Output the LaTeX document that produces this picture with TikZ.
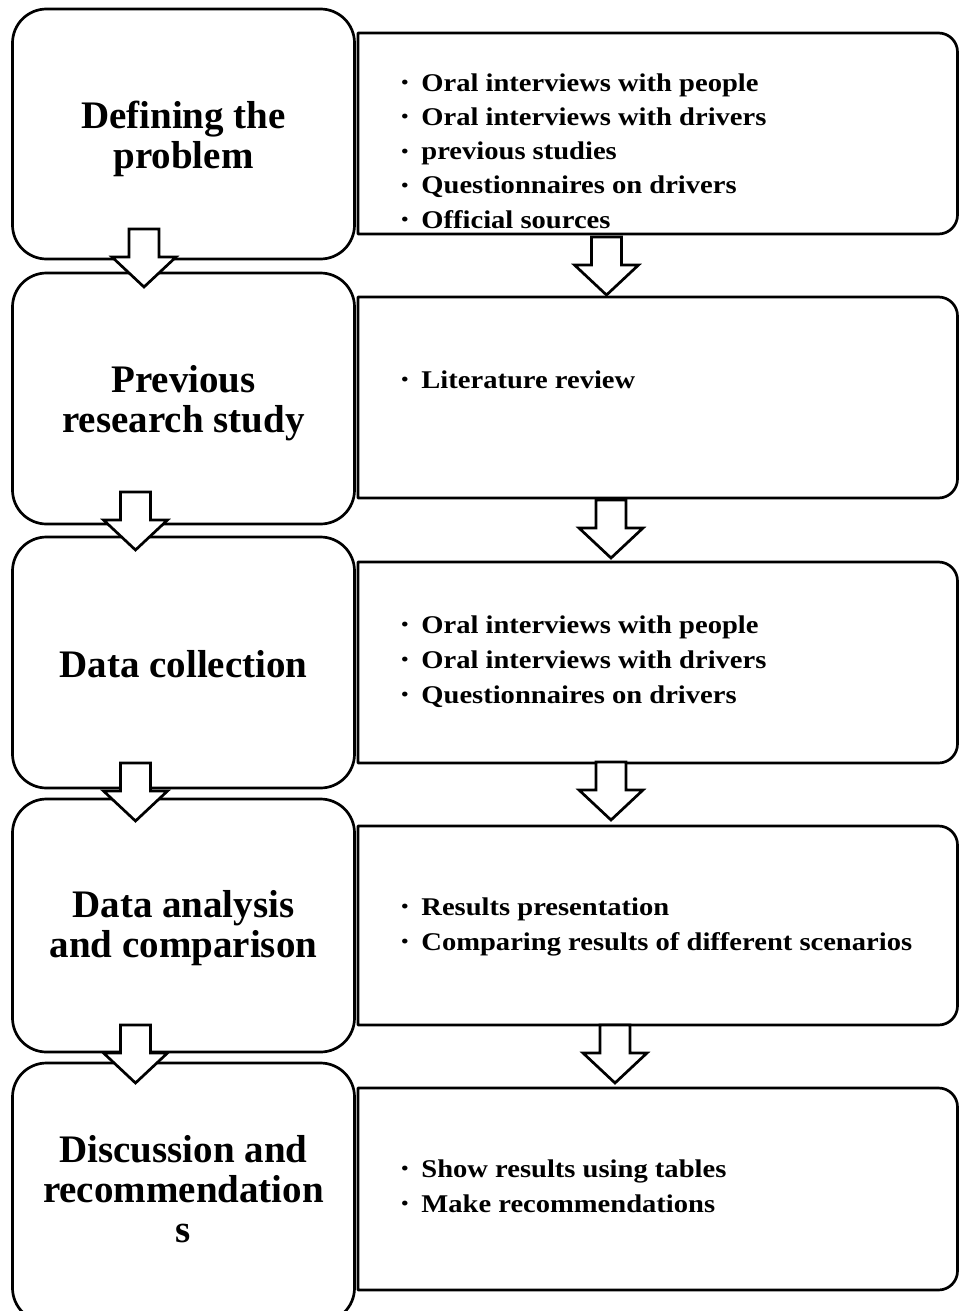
\documentclass[tikz,border=0pt]{standalone}
\usepackage{fontspec}
\setmainfont{Liberation Serif}
\newfontfamily\bulfont[FakeStretch=1.12]{Liberation Serif}
\usetikzlibrary{calc}
\newcommand\rightframe[1]{%
  \draw[frame] (#1.north west) -- ($(#1.north east)+(-19,0)$)
    .. controls ($(#1.north east)+(-8.5,0)$) and ($(#1.north east)+(0,8.5)$) .. ($(#1.north east)+(0,19)$)
    -- ($(#1.south east)+(0,-19)$)
    .. controls ($(#1.south east)+(0,-8.5)$) and ($(#1.south east)+(-8.5,0)$) .. ($(#1.south east)+(-19,0)$)
    -- (#1.south west) -- cycle;}
\newcommand\smalldot{\makebox[11pt][l]{\hspace{1pt}\raisebox{1.2pt}{\fontsize{9}{9}\selectfont\textbullet}}}
\begin{document}
\begin{tikzpicture}[x=0.5pt,y=-0.5pt,
  frame/.style={line width=1.35pt, line join=round},
  lbox/.style={draw, line width=1.35pt, rounded corners=17pt, fill=white, inner sep=0pt, outer sep=0pt, minimum width=171pt},
  rbox/.style={inner sep=0pt, outer sep=0pt, minimum width=299.75pt},
  title/.style={font=\fontsize{19.5}{20}\selectfont\bfseries, align=center, inner sep=0pt},
  bul/.style={font=\bulfont\fontsize{12.75}{15}\selectfont\bfseries, anchor=base west, inner sep=0pt},
  barrow/.pic={\draw[line width=1.35pt, fill=white, line join=miter]
     (-15,-58) -- (15,-58) -- (15,-30) -- (32,-30) -- (0,0) -- (-32,-30) -- (-15,-30) -- cycle;}
]
\useasboundingbox (0,0) rectangle (959,1311);
\clip (0,0) rectangle (959,1311);

% right boxes
\node[rbox, minimum height=100.5pt] (R1) at (657.75,133.5) {};
\node[rbox, minimum height=100.5pt] (R2) at (657.75,397.5) {};
\node[rbox, minimum height=100.5pt] (R3) at (657.75,662.5) {};
\node[rbox, minimum height=99.5pt]  (R4) at (657.75,925.5) {};
\node[rbox, minimum height=101pt]   (R5) at (657.75,1189) {};
\rightframe{R1}
\rightframe{R2}
\rightframe{R3}
\rightframe{R4}
\rightframe{R5}

% left boxes
\node[lbox, minimum height=125pt]   (L1) at (183.5,134) {};
\node[lbox, minimum height=125.5pt] (L2) at (183.5,398.5) {};
\node[lbox, minimum height=125.5pt] (L3) at (183.5,662.5) {};
\node[lbox, minimum height=126.5pt] (L4) at (183.5,925.5) {};
\node[lbox, minimum height=129.5pt] (L5) at (183.5,1192.5) {};

% titles
\node[title] (T1) at (183.5,138.5) {Defining the\\problem};
\node[title] (T2) at (183.5,403) {Previous\\research study};
\node[title] (T3) at (183.5,663.7) {Data collection};
\node[title] (T4) at (183.5,928.5) {Data analysis\\and comparison};
\node[title] (T5) at (183.5,1189) {Discussion and\\recommendation\\s};

% bullets
\foreach \t [count=\i] in {Oral interviews with people, Oral interviews with drivers, previous studies, Questionnaires on drivers, Official sources}
  \node[bul] (b1\i) at (399,{91+34.3*(\i-1)}) {\smalldot\t};
\node[bul] (b21) at (399,388) {\smalldot Literature review};
\foreach \t [count=\i] in {Oral interviews with people, Oral interviews with drivers, Questionnaires on drivers}
  \node[bul] (b3\i) at (399,{633+35*(\i-1)}) {\smalldot\t};
\node[bul] (b41) at (399,915) {\smalldot Results presentation};
\node[bul] (b42) at (399,950) {\smalldot Comparing results of different scenarios};
\node[bul] (b51) at (399,1177) {\smalldot Show results using tables};
\node[bul] (b52) at (399,1212) {\smalldot Make recommendations};

% block arrows (tips)
\coordinate (a1) at (144,287);
\coordinate (a2) at (135.5,550);
\coordinate (a3) at (135.5,821);
\coordinate (a4) at (135.5,1083);
\coordinate (c1) at (606.5,295);
\coordinate (c2) at (611,558);
\coordinate (c3) at (611,820);
\coordinate (c4) at (615,1083);
\foreach \p in {a1,a2,a3,a4,c1,c2,c3,c4}
  \pic at (\p) {barrow};
\end{tikzpicture}
\end{document}
